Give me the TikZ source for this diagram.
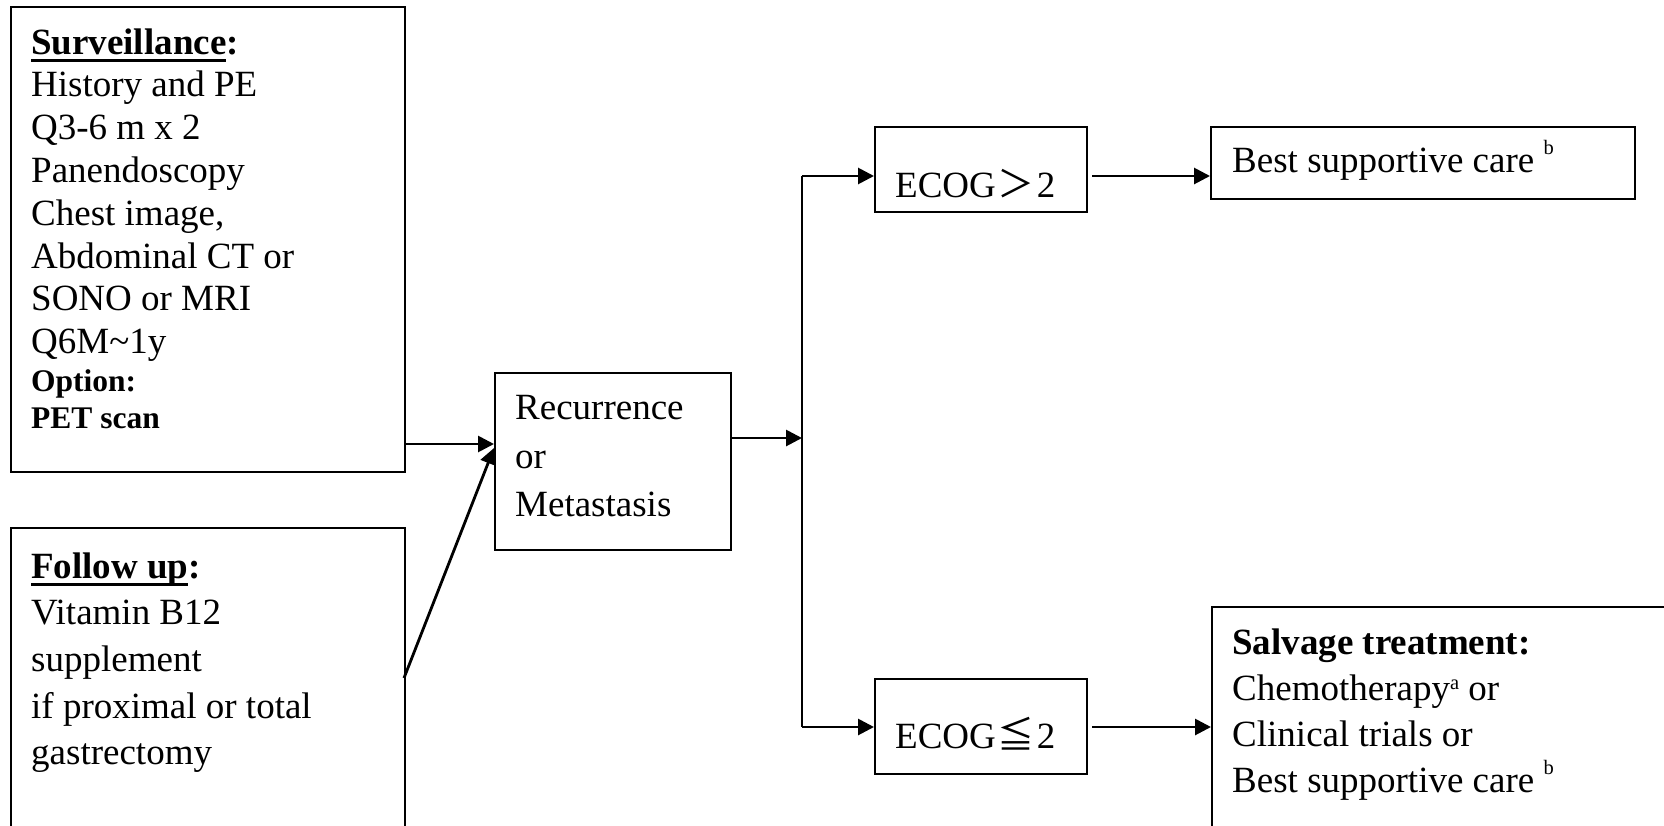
\documentclass[tikz,border=0pt]{standalone}
\usepackage{fontspec}
\setmainfont{Liberation Serif}
\newfontfamily\cjk{Noto Sans CJK TC}
\usetikzlibrary{arrows.meta}

% heading word with a heavy underline
\newsavebox\ulbox
\newcommand\ulhead[1]{\sbox\ulbox{#1}\rlap{\rule[-7.5pt]{\wd\ulbox}{3pt}}\usebox\ulbox}
% small raised footnote mark: #1 = raise, #2 = mark
\newcommand\supmark[2]{\raisebox{#1}{\fontsize{20.5}{20.5}\selectfont #2}}

\begin{document}
\begin{tikzpicture}[x=1pt,y=-1pt,
  box/.style={draw,line width=2.3pt,inner sep=0pt,anchor=north west},
  txt/.style={inner sep=0pt,anchor=north west,align=left},
  oneline/.style={inner sep=0pt,anchor=base west,font=\fontsize{37}{43}\selectfont},
  arr/.style={line width=2.8pt,-{Triangle[length=16pt,width=16pt]}},
  plain/.style={line width=2.8pt},
]
\useasboundingbox (0,0) rectangle (1664,825);
\clip (0,0) rectangle (1664,825);
\fill[white] (0,0) rectangle (1664,825);

% boxes
\node[box,minimum width=394pt,minimum height=465pt] (surv) at (10,6) {};
\node[box,minimum width=394pt,minimum height=330pt] (fol)  at (10,527) {};
\node[box,minimum width=236pt,minimum height=177pt] (rec)  at (494,372) {};
\node[box,minimum width=212pt,minimum height=85pt]  (e1)   at (874,126) {};
\node[box,minimum width=212pt,minimum height=95pt]  (e2)   at (874,678) {};
\node[box,minimum width=424pt,minimum height=72pt]  (bsc)  at (1210,126) {};
\node[box,minimum width=500pt,minimum height=250pt] (salv) at (1211,606) {};

% box texts
\node[txt,font=\fontsize{37}{42.8}\selectfont] (survtxt) at (31,24) {\strut\textbf{\ulhead{Surveillance}:}\\History and PE\\Q3-6 m x 2\\Panendoscopy\\Chest image,\\Abdominal CT or\\SONO or MRI\\Q6M\textasciitilde1y};
\node[txt,font=\fontsize{31.5}{36.7}\selectfont\bfseries] (survopt) at (31,365.5) {\strut Option:\\PET scan};
\node[txt,font=\fontsize{37}{46.6}\selectfont] (foltxt) at (31,545.5) {\strut\textbf{\ulhead{Follow up}:}\\Vitamin B12\\supplement\\if proximal or total\\gastrectomy};
\node[txt,font=\fontsize{37}{48.8}\selectfont] (rectxt) at (515,385) {\strut Recurrence\\or\\Metastasis};
\node[oneline] (e1txt) at (895,197) {ECOG\kern2pt{\cjk ＞}\kern2pt 2};
\node[oneline] (e2txt) at (895,748) {ECOG\kern2pt{\cjk ≦}\kern2pt 2};
\node[oneline] (bsctxt) at (1232,172) {Best supportive care \supmark{18pt}{b}};
\node[txt,font=\fontsize{37}{46}\selectfont] (salvtxt) at (1232,622) {\strut\textbf{Salvage treatment:}\\Chemotherapy\supmark{11pt}{a} or\\Clinical trials or\\Best supportive care \supmark{18pt}{b}};

% junction points
\coordinate (recin) at (494,444);
\coordinate (folout) at (404,678);
\coordinate (split) at (802,438);
\coordinate (e1in) at (874,176);
\coordinate (e2in) at (874,727);

% connectors
\draw[arr] (surv.east |- recin) -- (recin);
\draw[arr] (folout) -- ([yshift=-4pt]recin);
\draw[arr] (rec.east |- split) -- (split);
\draw[plain] (split |- e1in) -- (split |- e2in);
\draw[arr] (split |- e1in) -- (e1in);
\draw[arr] (split |- e2in) -- (e2in);
\draw[arr,shorten <=4pt] (e1.east |- e1in) -- (bsc.west |- e1in);
\draw[arr,shorten <=4pt] (e2.east |- e2in) -- (salv.west |- e2in);
\end{tikzpicture}
\end{document}
